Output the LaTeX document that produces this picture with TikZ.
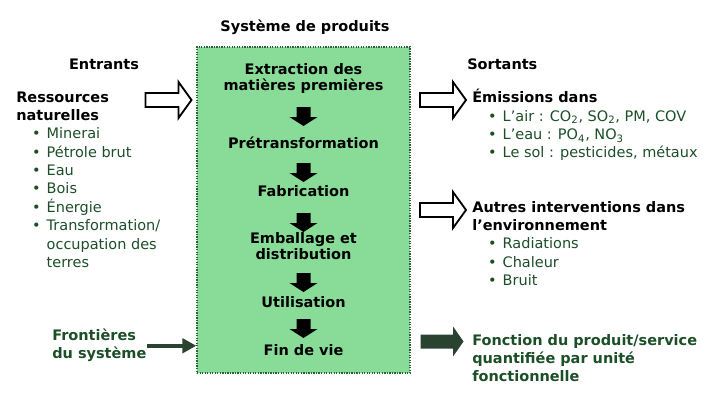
\documentclass[tikz,border=0pt]{standalone}
\usepackage{fontspec}
\setmainfont{DejaVu Sans}
\usetikzlibrary{arrows.meta}

\definecolor{boxgreen}{RGB}{136,220,152}
\definecolor{edgegreen}{RGB}{40,100,55}
\definecolor{textgreen}{RGB}{28,78,40}
\definecolor{arrowdark}{RGB}{42,66,48}

\newcommand{\puce}{\makebox[0.76cm][l]{\hspace{0.5cm}\makebox[0pt]{\textbullet}}}
\newcommand{\titre}[1]{\textcolor{black}{\textbf{#1}}}
\newcommand{\lignes}[1]{\begin{tabular}{@{}l@{}}#1\end{tabular}}
\newcommand{\centre}[1]{\begin{tabular}{@{}c@{}}#1\end{tabular}}

\begin{document}
\begin{tikzpicture}[> = latex, x = 0.025cm, y = -0.025cm,
	txt/.style = {inner sep = 0, anchor = north west, text = textgreen, font = \fontsize{10.3}{13}\selectfont},
	heading/.style = {txt, text = black, font = \bfseries\fontsize{10.3}{13}\selectfont},
	boldgreen/.style = {txt, font = \bfseries\fontsize{10.3}{13}\selectfont},
	stage/.style = {inner sep = 0, anchor = north, font = \bfseries\fontsize{10.3}{10.7}\selectfont},
	system/.style = {draw = edgegreen, line width = 0.9pt, dash pattern = on 0.9pt off 0.9pt, fill = boxgreen,
		minimum width = 5.325cm, minimum height = 8.15cm},
	link/.style = {draw = arrowdark, line width = 3.2pt, -{Triangle[length = 0.35cm, width = 0.36cm]}},
	openarrow/.pic = {\draw [line width = 1.3pt, fill = white] (-23, -7) -- (10, -7) -- (10, -18) -- (23, 0)
		-- (10, 18) -- (10, 7) -- (-23, 7) -- cycle;},
	downarrow/.pic = {\fill [black] (-7, 0) -- (7, 0) -- (7, 10) -- (14, 10) -- (0, 19) -- (-14, 10) -- (-7, 10) -- cycle;},
	fatarrow/.pic = {\fill [arrowdark] (-21.5, -7) -- (11, -7) -- (11, -15) -- (21.5, 0) -- (11, 15) -- (11, 7)
		-- (-21.5, 7) -- cycle;}]

	\useasboundingbox (0, 0) rectangle (720, 403);

	% Product system box

	\node (box) [system] at (303.5, 210) {};
	\node (sys) [heading, anchor = north] at (305, 18.2) {\lignes{Système de produits}};

	% Life cycle stages

	\node (ext) [stage] at (303.5, 63.5) {\centre{Extraction des\\matières premières}};
	\node (pre) [stage] at (303.5, 136.5) {\centre{Prétransformation}};
	\node (fab) [stage] at (303.5, 185.5) {\centre{Fabrication}};
	\node (emb) [stage] at (303.5, 232.5) {\centre{Emballage et\\distribution}};
	\node (uti) [stage] at (303.5, 296.5) {\centre{Utilisation}};
	\node (fin) [stage] at (303.5, 344.5) {\centre{Fin de vie}};

	\foreach \y in {107, 163, 213, 273, 319}
		\pic at (303.5, \y) {downarrow};

	% Inputs

	\node (entr) [heading, anchor = north] at (104, 56.2) {\lignes{Entrants}};
	\node (res) [txt] at (16, 89.2) {\lignes{\titre{Ressources}\\\titre{naturelles}\\
		\puce Minerai\\\puce Pétrole brut\\\puce Eau\\\puce Bois\\\puce Énergie\\
		\puce Transformation/\\\hspace*{0.76cm}occupation des\\\hspace*{0.76cm}terres}};
	\pic at (168.5, 100) {openarrow};

	% Outputs

	\node (sort) [heading] at (467, 56.2) {\lignes{Sortants}};
	\node (emi) [txt] at (472, 89.2) {\lignes{\titre{Émissions dans}\\
		\puce L’air : CO\textsubscript{2}, SO\textsubscript{2}, PM, COV\\
		\puce L’eau : PO\textsubscript{4}, NO\textsubscript{3}\\
		\puce Le sol : pesticides, métaux}};
	\node (aut) [txt] at (472, 199.2) {\lignes{\titre{Autres interventions dans}\\\titre{l’environnement}\\
		\puce Radiations\\\puce Chaleur\\\puce Bruit}};
	\pic at (443, 100) {openarrow};
	\pic at (443, 210) {openarrow};

	% System boundary and function

	\node (front) [boldgreen] at (52, 327.2) {\lignes{Frontières\\du système}};
	\draw [link] (front.east) -- (front.east -| box.west);

	\pic at (442, 341.5) {fatarrow};
	\node (fonc) [boldgreen] at (472, 332.2) {\lignes{Fonction du produit/service\\quantifiée par unité\\fonctionnelle}};

\end{tikzpicture}
\end{document}
